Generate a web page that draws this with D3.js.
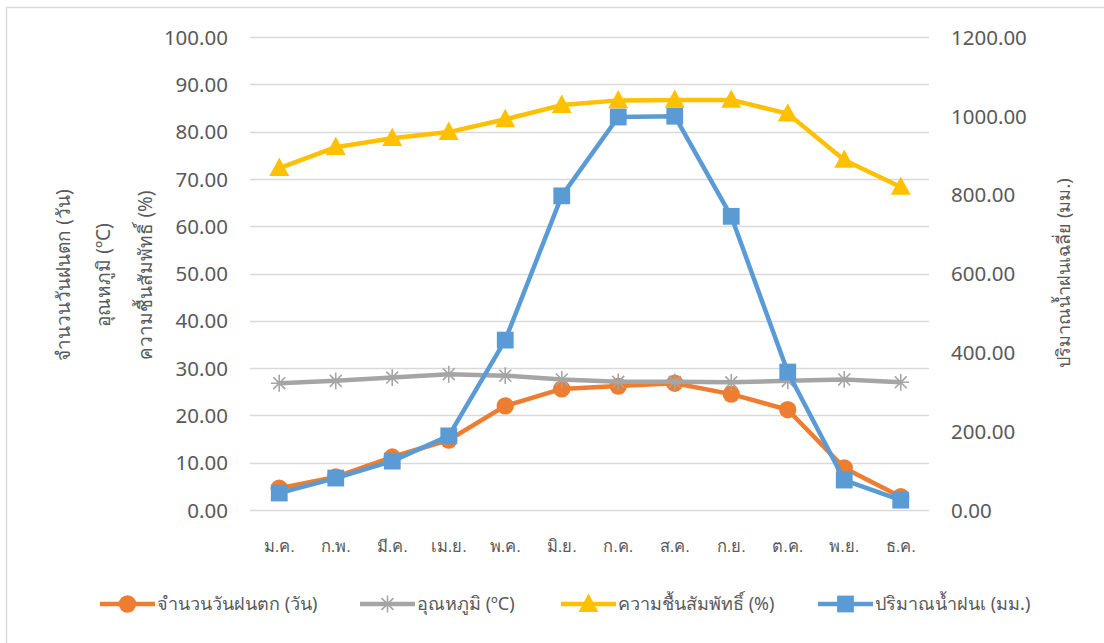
<!DOCTYPE html>
<html>
<head>
<meta charset="utf-8">
<script src="https://cdn.jsdelivr.net/npm/d3@7"></script>
<style>
  html, body { margin: 0; padding: 0; background: #fff; }
  svg { display: block; font-family: "Noto Sans", "Open Sans", sans-serif; }
</style>
</head>
<body>
<svg id="chart" width="1104" height="643"></svg>
<script>
// Monthly climate figures
const months = ["ม.ค.", "ก.พ.", "มี.ค.", "เม.ย.", "พ.ค.", "มิ.ย.", "ก.ค.", "ส.ค.", "ก.ย.", "ต.ค.", "พ.ย.", "ธ.ค."];
const rainDays = [4.6, 7.0, 11.2, 14.8, 22.0, 25.6, 26.2, 26.8, 24.5, 21.2, 8.9, 2.8];
const temperature = [26.8, 27.3, 28.0, 28.7, 28.4, 27.6, 27.1, 27.1, 27.0, 27.3, 27.6, 27.0];
const humidity = [72.3, 76.7, 78.6, 79.9, 82.6, 85.6, 86.6, 86.7, 86.7, 83.8, 74.0, 68.3];
const rainfall = [43, 81, 124, 188, 431, 797, 997, 999, 745, 350, 76, 25];
const leftTicks = [0, 10, 20, 30, 40, 50, 60, 70, 80, 90, 100];
const rightTicks = [0, 200, 400, 600, 800, 1000, 1200];

const seriesNames = ["จำนวนวันฝนตก (วัน)", "อุณหภูมิ (ºC)", "ความชื้นสัมพัทธิ์ (%)", "ปริมาณน้ำฝนเ (มม.)"];
const leftTitles = ["จำนวนวันฝนตก (วัน)", "อุณหภูมิ (ºC)", "ความชื้นสัมพัทธิ์ (%)"];
const rightTitle = "ปริมาณน้ำฝนเฉลี่ย (มม.)";

const colors = { orange: "#ed7d31", gray: "#a5a5a5", yellow: "#ffc000", blue: "#5b9bd5" };
const textColor = "#595959";
const gridColor = "#d9d9d9";

const svg = d3.select("#chart");

// outer chart frame
svg.append("rect")
  .attr("x", 6.5).attr("y", 7.5).attr("width", 1110).attr("height", 650)
  .attr("fill", "#fff").attr("stroke", gridColor).attr("stroke-width", 1.5);

const plot = { left: 251, right: 929, top: 37, bottom: 510 };

const x = d3.scaleBand().domain(months).range([plot.left, plot.right]);
const yL = d3.scaleLinear().domain([0, 100]).range([plot.bottom, plot.top]);
const yR = d3.scaleLinear().domain([0, 1200]).range([plot.bottom, plot.top]);
const cx = m => x(m) + x.bandwidth() / 2;

// gridlines
svg.append("g")
  .selectAll("line").data(leftTicks).join("line")
  .attr("x1", plot.left - 1).attr("x2", plot.right)
  .attr("y1", d => Math.round(yL(d)) + 0.5).attr("y2", d => Math.round(yL(d)) + 0.5)
  .attr("stroke", gridColor).attr("stroke-width", 1.5);

// left axis labels
const axL = svg.append("g").attr("transform", `translate(${plot.left - 23},0)`)
  .call(d3.axisLeft(yL).tickValues(leftTicks).tickFormat(d3.format(".2f")).tickSize(0).tickPadding(0));
axL.select(".domain").remove();
axL.selectAll("text").attr("fill", textColor).style("font-size", "20.5px").attr("dy", "0.35em")
  .style("font-family", "'Noto Sans', sans-serif");

// right axis labels
const axR = svg.append("g").attr("transform", `translate(${plot.right + 22},0)`)
  .call(d3.axisRight(yR).tickValues(rightTicks).tickFormat(d3.format(".2f")).tickSize(0).tickPadding(0));
axR.select(".domain").remove();
axR.selectAll("text").attr("fill", textColor).style("font-size", "20.5px").attr("dy", "0.35em")
  .style("font-family", "'Noto Sans', sans-serif");

// category axis
const axX = svg.append("g").attr("transform", `translate(0,${plot.bottom + 36})`)
  .call(d3.axisBottom(x).tickSize(0).tickPadding(0));
axX.select(".domain").remove();
axX.selectAll("text").attr("fill", textColor).style("font-size", "16.5px").attr("dy", "0.35em");

// axis titles
leftTitles.forEach((t, i) => {
  svg.append("text")
    .attr("transform", `translate(${[70, 110, 152][i]},275) rotate(-90)`)
    .attr("text-anchor", "middle").attr("fill", textColor).style("font-size", "19px")
    .text(t);
});
svg.append("text")
  .attr("transform", `translate(1070,273) rotate(-90)`)
  .attr("text-anchor", "middle").attr("fill", textColor).style("font-size", "18px")
  .text(rightTitle);

// marker drawing helpers
function marker(g, type, color, size) {
  if (type === "circle") {
    g.append("circle").attr("r", size * 0.62).attr("fill", color);
  } else if (type === "square") {
    g.append("rect").attr("x", -size * 0.6).attr("y", -size * 0.6)
      .attr("width", size * 1.2).attr("height", size * 1.2).attr("fill", color);
  } else if (type === "triangle") {
    const s = size * 0.75;
    g.append("path").attr("d", `M0,${-s} L${s * 0.95},${s * 0.75} L${-s * 0.95},${s * 0.75} Z`).attr("fill", color);
  } else if (type === "star") {
    const s = size * 0.6;
    const p = [];
    for (let k = 0; k < 4; k++) {
      const a = k * Math.PI / 4;
      p.push(`M${-s * Math.cos(a)},${-s * Math.sin(a)} L${s * Math.cos(a)},${s * Math.sin(a)}`);
    }
    g.append("path").attr("d", p.join(" ")).attr("stroke", color).attr("stroke-width", 1.6).attr("fill", "none");
  }
}

const series = [
  { values: rainDays, scale: yL, color: colors.orange, type: "circle" },
  { values: temperature, scale: yL, color: colors.gray, type: "star" },
  { values: humidity, scale: yL, color: colors.yellow, type: "triangle" },
  { values: rainfall, scale: yR, color: colors.blue, type: "square" }
];

series.forEach(s => {
  const line = d3.line().x((d, i) => cx(months[i])).y(d => s.scale(d));
  svg.append("path").datum(s.values)
    .attr("d", line).attr("fill", "none").attr("stroke", s.color)
    .attr("stroke-width", 4.5).attr("stroke-linejoin", "round");
  s.values.forEach((v, i) => {
    const g = svg.append("g").attr("transform", `translate(${cx(months[i])},${s.scale(v)})`);
    marker(g, s.type, s.color, 14);
  });
});

// legend
const legendX = [100, 360, 561, 818];
series.forEach((s, i) => {
  const g = svg.append("g").attr("transform", `translate(${legendX[i]},604)`);
  g.append("line").attr("x1", 0).attr("x2", 55).attr("y1", 0).attr("y2", 0)
    .attr("stroke", s.color).attr("stroke-width", 4.5);
  const m = g.append("g").attr("transform", "translate(27.5,0)");
  marker(m, s.type, s.color, 14);
  g.append("text").attr("x", 57).attr("y", 0).attr("dy", "0.35em")
    .attr("fill", textColor).style("font-size", "18px").text(seriesNames[i]);
});
</script>
</body>
</html>
